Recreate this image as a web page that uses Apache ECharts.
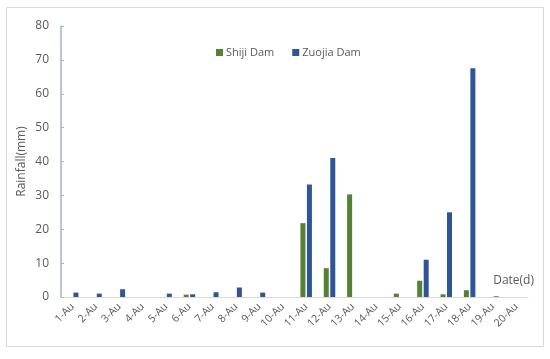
<!DOCTYPE html>
<html><head><meta charset="utf-8">
<script src="https://cdn.jsdelivr.net/npm/echarts@6/dist/echarts.min.js"></script>
<style>html,body{margin:0;padding:0;background:#fff}#c{width:550px;height:359px}</style>
</head><body><div id="c"></div>
<script>
const categories = ['1-Au','2-Au','3-Au','4-Au','5-Au','6-Au','7-Au','8-Au','9-Au','10-Au','11-Au','12-Au','13-Au','14-Au','15-Au','16-Au','17-Au','18-Au','19-Au','20-Au'];
const shiji = [0,0,0,0,0,0.7,0,0,0,0,21.8,8.5,30.3,0,1.0,4.8,0.8,2.0,0,0];
const zuojia = [1.3,1.0,2.3,0,1.0,0.8,1.4,2.8,1.3,0,33.2,41.0,0,0,0,11.0,25.0,67.5,0.2,0];
const yTicks = {min:0, max:80, interval:10};

const chart = echarts.init(document.getElementById('c'));
chart.setOption({
  animation:false,
  textStyle:{fontFamily:'"Open Sans", "Liberation Sans", sans-serif'},
  graphic:[{type:'rect', shape:{x:6.5,y:7.5,width:537,height:339}, style:{fill:'none', stroke:'#d9d9d9', lineWidth:1}, silent:true}],
  legend:{
    data:['Shiji Dam','Zuojia Dam'], top:42, left:211, itemWidth:7, itemHeight:7, itemGap:18,
    icon:'rect', textStyle:{color:'#595959', fontSize:11, padding:[0,0,0,-2]}
  },
  grid:{left:61, right:22, top:26, bottom:62, containLabel:false},
  xAxis:{
    type:'category', data:categories,
    name:'Date(d)', nameLocation:'end', nameGap:0, nameMoveOverlap:false,
    nameTextStyle:{color:'#595959', fontSize:12, align:'right', verticalAlign:'bottom', padding:[0,-6,10,0]},
    axisLine:{lineStyle:{color:'#d9d9d9', width:1}},
    axisTick:{show:false},
    axisLabel:{rotate:45, color:'#595959', fontSize:10.5, interval:0, margin:8}
  },
  yAxis:{
    type:'value', min:yTicks.min, max:yTicks.max, interval:yTicks.interval,
    name:'Rainfall(mm)', nameLocation:'middle', nameGap:33, nameRotate:90, nameMoveOverlap:false,
    nameTextStyle:{color:'#595959', fontSize:12},
    axisLine:{show:true, lineStyle:{color:'#9fb3cc', width:1.5}},
    axisTick:{show:true, inside:true, length:3, lineStyle:{color:'#9fb3cc'}},
    splitLine:{show:false},
    axisLabel:{color:'#595959', fontSize:12, margin:12}
  },
  series:[
    {name:'Shiji Dam', type:'bar', data:shiji, barWidth:5, barGap:'30%', itemStyle:{color:'#548235'}},
    {name:'Zuojia Dam', type:'bar', data:zuojia, barWidth:5, barGap:'30%', itemStyle:{color:'#2f5597'}}
  ]
});
</script></body></html>
